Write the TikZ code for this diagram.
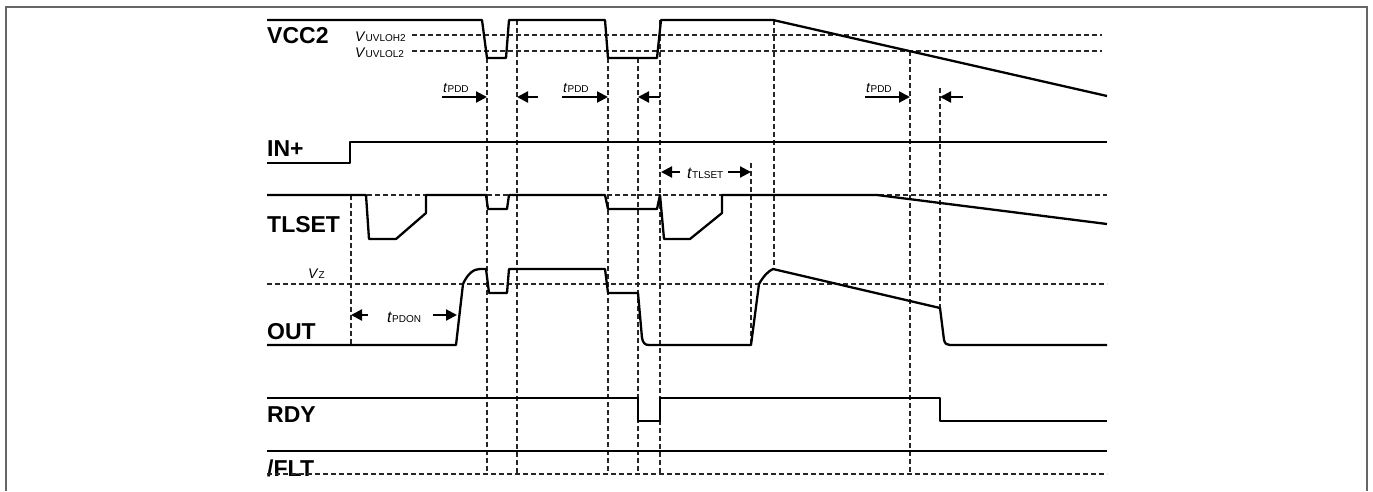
\documentclass[tikz,border=0pt]{standalone}
\usepackage{fontspec}
\setmainfont{Liberation Sans}
\usetikzlibrary{arrows.meta,positioning}
\tikzstyle{wave}  = [draw, line width=2.3pt, line join=round]
\tikzstyle{guide} = [draw, black!85, line width=1.1pt, dash pattern=on 5pt off 3pt]
\tikzstyle{ptr}   = [draw, line width=2.2pt, -{Triangle[length=11pt,width=11pt]}]
\tikzstyle{sname} = [anchor=west, inner sep=0pt, font=\fontsize{23}{23}\selectfont\bfseries]
\tikzstyle{lvl}   = [anchor=base west, inner sep=0pt, font=\fontsize{14}{14}\selectfont]
\tikzstyle{tlbl}  = [anchor=base west, inner sep=0pt, font=\fontsize{14}{14}\selectfont]
\tikzstyle{tbig}  = [anchor=base west, inner sep=0pt, font=\fontsize{16}{16}\selectfont]
\newcommand{\lsub}[1]{{\fontsize{10}{10}\selectfont #1}}

\begin{document}
\begin{tikzpicture}[x=1pt, y=-1pt]
		\useasboundingbox (0,0) rectangle (1373,491);
		\draw[black!60, line width=1.5pt] (6,491) -- (6,7) -- (1367,7) -- (1367,491);

		% signal names
		\node[sname] (vcc)   at (267,36)  {VCC2};
		\node[sname] (inp)   at (267,149) {IN+};
		\node[sname] (tlset) at (267,225) {TLSET};
		\node[sname] (out)   at (267,332) {OUT};
		\node[sname] (rdy)   at (267,415) {RDY};
		\node[sname] (flt)   at (267,468) {/FLT};

		% levels
		\node[lvl] (uvloh) at (355,41)  {\textit{V}\lsub{UVLOH2}};
		\node[lvl] (uvlol) at (355,57)  {\textit{V}\lsub{UVLOL2}};
		\node[lvl] (vz)    at (308,278) {\textit{V}\lsub{Z}};

		% horizontal guides
		\draw[guide] (412,35) -- (1102,35);
		\draw[guide] (412,51) -- (1102,51);
		\draw[guide] (351,195) -- (1107,195);
		\draw[guide] (267,284) -- (1107,284);
		\draw[guide] (267,474) -- (1107,474);

		% vertical guides
		\draw[guide] (351,195) -- (351,345);
		\draw[guide] (487,58) -- (487,474);
		\draw[guide] (517,20) -- (517,474);
		\draw[guide] (608,58) -- (608,474);
		\draw[guide] (638,58) -- (638,474);
		\draw[guide] (660,20) -- (660,474);
		\draw[guide] (751,163) -- (751,345);
		\draw[guide] (774,20) -- (774,267);
		\draw[guide] (910,51) -- (910,474);
		\draw[guide] (940,88) -- (940,308);

		% waveforms
		\draw[wave] (267,20) -- (482,20) -- (487,58) -- (506,58) -- (509,20) -- (605,20)
			-- (608,58) -- (657,58) -- (661,20) -- (773,20) -- (1107,96);
		\draw[wave] (267,163) -- (350,163) -- (350,142) -- (1107,142);
		\draw[wave] (267,195) -- (366,195) -- (369,239) -- (396,239) -- (426,213) -- (426,195)
			-- (486,195) -- (488,209) -- (507,209) -- (509,195) -- (605,195) -- (608,209)
			-- (657,209) -- (660,195) -- (664,239) -- (690,239) -- (722,213) -- (722,195)
			-- (877,195) -- (1107,224);
		\draw[wave] (267,345) -- (456,345) -- (463,284) .. controls (468,273) and (474,269) .. (480,269)
			-- (486,269) -- (489,293) -- (507,293) -- (509,269) -- (605,269) -- (608,293)
			-- (638,293) -- (642,338) .. controls (643,343) and (645,345) .. (649,345)
			-- (751,345) -- (759,284) .. controls (763,277) and (768,271) .. (773,269)
			-- (940,308) -- (944,340) .. controls (945,344) and (947,345) .. (950,345) -- (1107,345);
		\draw[wave] (267,398) -- (638,398) -- (638,421) -- (660,421) -- (660,398)
			-- (940,398) -- (940,421) -- (1107,421);
		\draw[wave] (267,451) -- (1107,451);

		% timing arrows
		\coordinate (pdd1a) at (442,97);  \coordinate (pdd1b) at (487,97);
		\coordinate (pdd1c) at (538,97);  \coordinate (pdd1d) at (517,97);
		\coordinate (pdd2a) at (562,97);  \coordinate (pdd2b) at (608,97);
		\coordinate (pdd2c) at (660,97);  \coordinate (pdd2d) at (638,97);
		\coordinate (pdd3a) at (865,97);  \coordinate (pdd3b) at (910,97);
		\coordinate (pdd3c) at (963,97);  \coordinate (pdd3d) at (940,97);
		\coordinate (tla) at (680,172);   \coordinate (tlb) at (661,172);
		\coordinate (tlc) at (728,172);   \coordinate (tld) at (751,172);
		\coordinate (ona) at (368,315);   \coordinate (onb) at (351,315);
		\coordinate (onc) at (433,315);   \coordinate (ond) at (457,315);

		\draw[ptr] (pdd1a) -- (pdd1b);
		\draw[ptr] (pdd1c) -- (pdd1d);
		\draw[ptr] (pdd2a) -- (pdd2b);
		\draw[ptr] (pdd2c) -- (pdd2d);
		\draw[ptr] (pdd3a) -- (pdd3b);
		\draw[ptr] (pdd3c) -- (pdd3d);
		\draw[ptr] (tla) -- (tlb);
		\draw[ptr] (tlc) -- (tld);
		\draw[ptr] (ona) -- (onb);
		\draw[ptr] (onc) -- (ond);

		\node[tlbl] (pdd1) at (443,92) {\textit{t}\lsub{PDD}};
		\node[tlbl] (pdd2) at (563,92) {\textit{t}\lsub{PDD}};
		\node[tlbl] (pdd3) at (866,92) {\textit{t}\lsub{PDD}};
		\node[tbig] (tls)  at (687,178) {\textit{t}\lsub{TLSET}};
		\node[tbig] (pdon) at (387,322) {\textit{t}\lsub{PDON}};
	\end{tikzpicture}
\end{document}
